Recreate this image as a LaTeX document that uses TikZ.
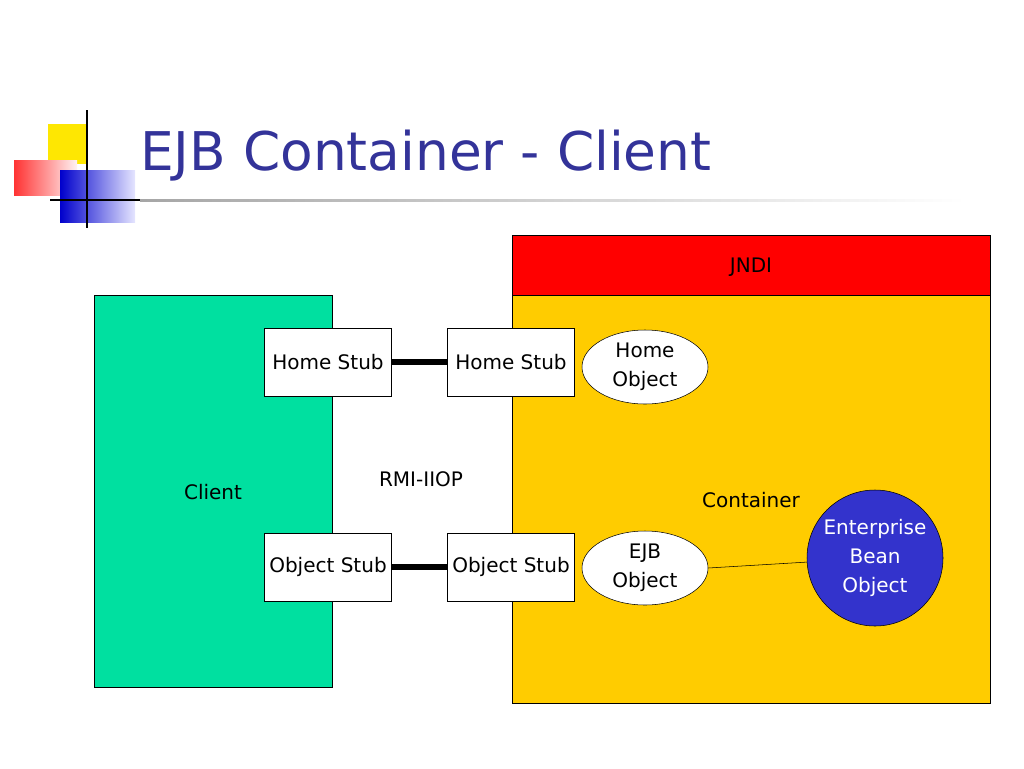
\documentclass[tikz,border=0pt]{standalone}
\usepackage{fontspec}
\setmainfont{DejaVu Sans}
\usetikzlibrary{shapes.geometric}
\definecolor{ttl}{RGB}{51,51,153}
\definecolor{cli}{RGB}{0,224,160}
\definecolor{cont}{RGB}{255,204,0}
\definecolor{bean}{RGB}{51,51,204}
\begin{document}
\begin{tikzpicture}[x=0.75pt,y=-0.75pt,
  stub/.style={draw,fill=white,minimum width=95.25pt,minimum height=51pt,inner sep=0pt,font=\fontsize{15}{17}\selectfont},
  ell/.style={draw,fill=white,ellipse,minimum width=94.5pt,minimum height=55.5pt,inner sep=0pt,align=center,font=\fontsize{15}{22}\selectfont},
  lbl/.style={font=\fontsize{15}{17}\selectfont},
  link/.style={line width=4pt}]
\useasboundingbox (0,0) rectangle (1024,768);
% logo
\fill[yellow!90!orange] (48,124) rectangle (88,164);
\shade[left color=red!80, right color=red!5] (14,160) rectangle (77,195);
\shade[left color=blue!80!black, right color=blue!10] (60,170) rectangle (135,222);
\draw[line width=1.5pt] (87,110) -- (87,228);
\draw[line width=1.5pt] (50,200) -- (140,200);
\shade[left color=gray!70, right color=white] (140,199) rectangle (965,201.5);
\node[anchor=base west,text=ttl,font=\fontsize{40}{46}\selectfont,inner sep=0pt] (title) at (140,170) {EJB Container - Client};
% client
\node[draw,fill=cli,minimum width=178.5pt,minimum height=294pt,inner sep=0pt] (client) at (213,491) {};
\node[lbl] (clientl) at (213,492) {Client};
% container
\node[draw,fill=cont,minimum width=358.5pt,minimum height=306pt,inner sep=0pt] (cont) at (751,499) {};
\node[draw,fill=red,minimum width=358.5pt,minimum height=45pt,inner sep=0pt] (jndi) at (751,265) {};
\node[lbl] at (751,267) {JNDI};
\node[lbl] (contl) at (751,500) {Container};
\node[lbl] (rmi) at (421,479) {RMI-IIOP};
% stubs
\node[stub] (hs1) at (328,362) {Home Stub};
\node[stub] (hs2) at (511,362) {Home Stub};
\node[stub] (os1) at (328,567) {Object Stub};
\node[stub] (os2) at (511,567) {Object Stub};
\draw[link] (hs1.east) -- (hs2.west);
\draw[link] (os1.east) -- (os2.west);
\node[ell] (ho) at (645,367) {Home\\Object};
\node[ell] (eo) at (645,568) {EJB\\Object};
\node[draw,circle,fill=bean,minimum size=102pt,inner sep=0pt,align=center,text=white,font=\fontsize{15}{22}\selectfont] (eb) at (875,558) {Enterprise\\Bean\\Object};
\draw (eo.east) -- (eb);
\end{tikzpicture}
\end{document}
